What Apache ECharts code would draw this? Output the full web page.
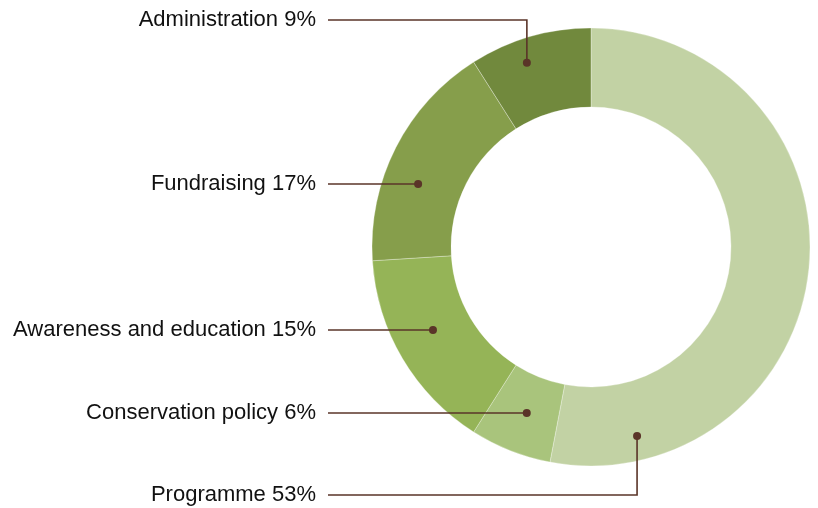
<!DOCTYPE html>
<html><head><meta charset="utf-8">
<script src="https://cdn.jsdelivr.net/npm/echarts@6/dist/echarts.min.js"></script>
<style>html,body{margin:0;padding:0;background:#fff}#chart{width:818px;height:508px}</style>
</head><body><div id="chart"></div>
<script>
// ---- data ----
const categories = ['Programme', 'Conservation policy', 'Awareness and education', 'Fundraising', 'Administration'];
const values = [53, 6, 15, 17, 9];

// ---- styles / layout ----
const colors = ['#c2d2a4', '#a9c47c', '#95b457', '#869e4b', '#71893d'];
const CENTER = [591, 247];
const R_IN = 140, R_OUT = 219;
const LABEL_RIGHT = 316;
const LINE_START = 328;
const LEADER_COLOR = '#5a3428';
// leader geometry: 'v' = vertical drop to dot at angle/radius; 'h' = horizontal line to ring at radius
const leaders = [
  { kind: 'v', angle: 166.3, r: 194.5, y: 495 },
  { kind: 'h', r: 178, y: 413 },
  { kind: 'h', r: 178.5, y: 330 },
  { kind: 'h', r: 184, y: 184 },
  { kind: 'v', angle: 340.8, r: 195, y: 20 }
];

function dotPoint(i) {
  const L = leaders[i];
  if (L.kind === 'v') {
    const a = L.angle * Math.PI / 180;
    return [CENTER[0] + L.r * Math.sin(a), CENTER[1] - L.r * Math.cos(a)];
  }
  const dy = L.y - CENTER[1];
  return [CENTER[0] - Math.sqrt(L.r * L.r - dy * dy), L.y];
}
function leaderPoints(i) {
  const d = dotPoint(i);
  const y = leaders[i].y;
  return [d, [d[0], y], [LINE_START, y]];
}

const chart = echarts.init(document.getElementById('chart'), null, { renderer: 'canvas' });
const guideGraphics = [];
categories.forEach((c, i) => {
  const pts = leaderPoints(i);
  guideGraphics.push({ type: 'polyline', shape: { points: pts }, style: { stroke: LEADER_COLOR, lineWidth: 1.6, fill: null }, z: 100, silent: true });
  guideGraphics.push({ type: 'circle', shape: { cx: pts[0][0], cy: pts[0][1], r: 4 }, style: { fill: LEADER_COLOR }, z: 101, silent: true });
});

const option = {
  animation: false,
  backgroundColor: '#ffffff',
  color: colors,
  series: [{
    type: 'pie',
    center: CENTER,
    radius: [R_IN, R_OUT],
    startAngle: 90,
    clockwise: true,
    silent: true,
    avoidLabelOverlap: false,
    itemStyle: { borderColor: 'rgba(255,255,255,0.5)', borderWidth: 0.6 },
    label: {
      show: true,
      formatter: '{b} {c}%',
      color: '#111111',
      fontSize: 22,
      fontFamily: '"Liberation Sans", Arial, Helvetica, sans-serif'
    },
    labelLine: { show: false },
    labelLayout: function (params) {
      const i = params.dataIndex;
      return {
        x: LABEL_RIGHT,
        y: leaders[i].y,
        align: 'right',
        verticalAlign: 'middle'
      };
    },
    data: categories.map((c, i) => ({ name: c, value: values[i] }))
  }],
  graphic: guideGraphics
};
chart.setOption(option);
</script>
</body></html>
